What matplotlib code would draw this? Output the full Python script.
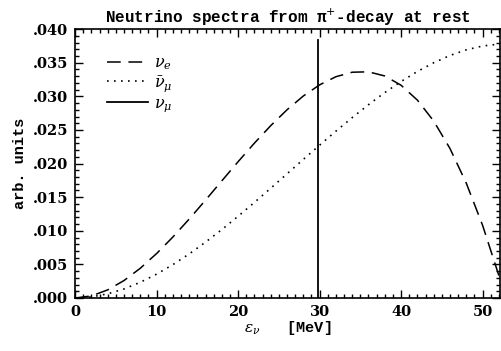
import matplotlib
matplotlib.use('Agg')
import matplotlib.pyplot as plt
from matplotlib.ticker import MultipleLocator, FuncFormatter

plt.rcParams['mathtext.fontset'] = 'dejavuserif'

# energies in MeV
energy = [0, 2, 4, 6, 8, 10, 12, 14, 16, 18, 20, 22, 24, 26, 28, 30,
          32, 34, 36, 38, 40, 42, 44, 46, 48, 50, 52, 52.8]
nu_e = [0.0, 0.00031, 0.00121, 0.0026, 0.00443, 0.00662, 0.00908, 0.01175,
        0.01456, 0.01743, 0.02028, 0.02304, 0.02564, 0.028, 0.03005, 0.03171,
        0.03292, 0.03359, 0.03365, 0.03303, 0.03165, 0.02944, 0.02633, 0.02224,
        0.01709, 0.01082, 0.00334, 0.0]
nubar_mu = [0.0, 0.00016, 0.00062, 0.00135, 0.00234, 0.00355, 0.00497, 0.00656,
            0.00831, 0.01018, 0.01216, 0.01422, 0.01633, 0.01847, 0.02062, 0.02274,
            0.02482, 0.02684, 0.02876, 0.03056, 0.03221, 0.0337, 0.035, 0.03608,
            0.03692, 0.03749, 0.03777, 0.0378]
nu_mu_energy = 29.8
nu_mu_top = 0.0384

fig = plt.figure(figsize=(5.01, 3.51), dpi=100)
ax = fig.add_axes([0.150, 0.151, 0.849, 0.766])

ax.plot(energy, nu_e, color='black', lw=1.1, dashes=(9, 5), label=r'$\nu_e$')
ax.plot(energy, nubar_mu, color='black', lw=1.2, dashes=(1, 3.2), label=r'$\bar{\nu}_\mu$')
ax.plot([nu_mu_energy, nu_mu_energy], [0, nu_mu_top], color='black', lw=1.3,
        label=r'$\nu_\mu$')

ax.set_xlim(0, 52.2)
ax.set_ylim(0, 0.040)
ax.xaxis.set_major_locator(MultipleLocator(10))
ax.xaxis.set_minor_locator(MultipleLocator(1))
ax.yaxis.set_major_locator(MultipleLocator(0.005))
ax.yaxis.set_minor_locator(MultipleLocator(0.001))
ax.yaxis.set_major_formatter(FuncFormatter(lambda v, p: ('%.3f' % v)[1:]))
ax.tick_params(which='both', direction='in', top=True, right=True, width=1)
ax.tick_params(which='major', length=6, pad=5)
ax.tick_params(which='minor', length=3)
for lab in ax.get_xticklabels() + ax.get_yticklabels():
    lab.set_family('DejaVu Serif')
    lab.set_fontsize(10.5)
    lab.set_fontweight('bold')
for sp in ax.spines.values():
    sp.set_linewidth(1.2)

ax.set_title('Neutrino spectra from \u03c0$^{+}$-decay at rest', family='Liberation Mono',
             fontsize=11.5, fontweight='bold', pad=5)
ax.set_xlabel(r'$\epsilon_\nu$   [MeV]', family='Liberation Mono', fontsize=11,
              fontweight='bold', labelpad=0)
ax.set_ylabel('arb. units', family='Liberation Mono', fontsize=11,
              fontweight='bold', labelpad=4)

ax.legend(loc='upper left', bbox_to_anchor=(0.04, 0.955), frameon=False,
          handlelength=2.6, fontsize=11.5, labelspacing=0.1, handletextpad=0.4)

fig.savefig('out.png', dpi=100)
